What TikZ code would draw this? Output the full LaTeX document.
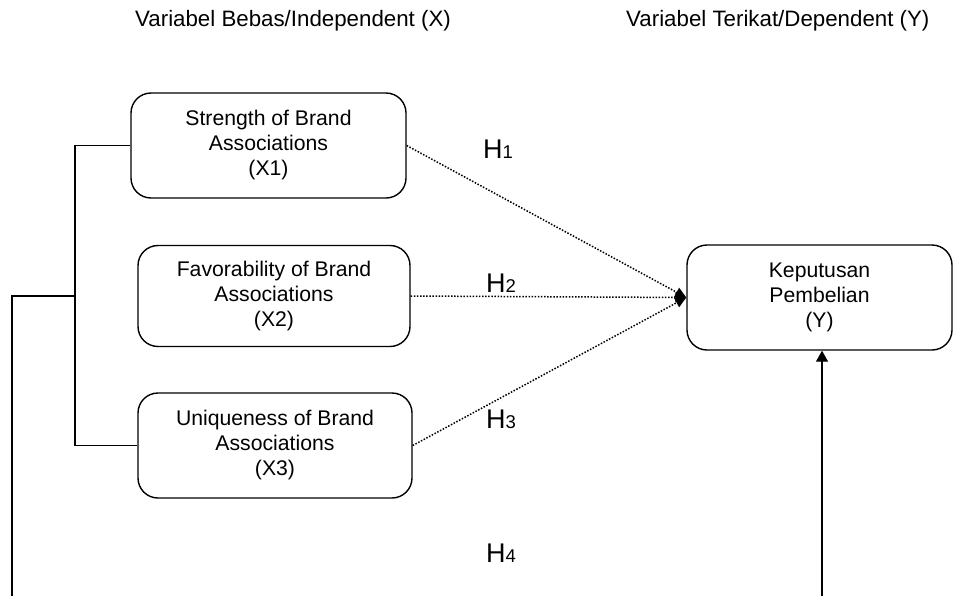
\documentclass[tikz,border=0pt]{standalone}
\usepackage{fontspec}
\setmainfont{Liberation Sans}
\usetikzlibrary{arrows.meta}
\begin{document}
\begin{tikzpicture}[x=1pt,y=-1pt,
  box/.style={draw, line width=1.4pt, rounded corners=20pt, align=center,
    font=\fontsize{21.2}{25}\selectfont, inner sep=0pt},
  conn/.style={line width=1.4pt},
  dotline/.style={line width=1.5pt, dash pattern=on 1.5pt off 1.6pt,
    -{Triangle[length=11pt,width=10pt]}},
  hlabel/.style={anchor=base west, inner sep=0pt, font=\fontsize{27}{30}\selectfont},
  header/.style={anchor=base west, inner sep=0pt, font=\fontsize{22.3}{26}\selectfont}]
\useasboundingbox (0,0) rectangle (953,595);

\node[header] (hx) at (135,26) {Variabel Bebas/Independent (X)};
\node[header] (hy) at (626,26) {Variabel Terikat/Dependent (Y)};

\node[box, minimum width=275pt, minimum height=105pt] (x1) at (268.5,145.5)
  {Strength of Brand\\Associations\\(X1)};
\node[box, minimum width=272pt, minimum height=101pt] (x2) at (274,296)
  {Favorability of Brand\\Associations\\(X2)};
\node[box, minimum width=274pt, minimum height=105pt] (x3) at (275,445.5)
  {Uniqueness of Brand\\Associations\\(X3)};
\node[box, minimum width=265pt, minimum height=105pt] (y) at (819.5,297.5)
  {Keputusan\\Pembelian\\(Y)};

\coordinate (bx) at (75,296);
\coordinate (bl) at (12,596);
\coordinate (br) at (822,596);

\draw[conn] (x1.west) -| (bx) |- (x3.west);
\draw[conn] (bx) -| (bl);
\draw[conn, -{Triangle[length=11pt,width=12pt]}] (br) -- (br |- y.south);

\draw[dotline] (x1.east) -- (y.west);
\draw[dotline] (x2.east) -- (y.west);
\draw[dotline] (x3.east) -- (y.west);

\node[hlabel] (h1) at (483,158) {H{\fontsize{18.5}{20}\selectfont 1}};
\node[hlabel] (h2) at (486,292) {H{\fontsize{18.5}{20}\selectfont 2}};
\node[hlabel] (h3) at (486,428) {H{\fontsize{18.5}{20}\selectfont 3}};
\node[hlabel] (h4) at (486,562) {H{\fontsize{18.5}{20}\selectfont 4}};
\end{tikzpicture}
\end{document}
